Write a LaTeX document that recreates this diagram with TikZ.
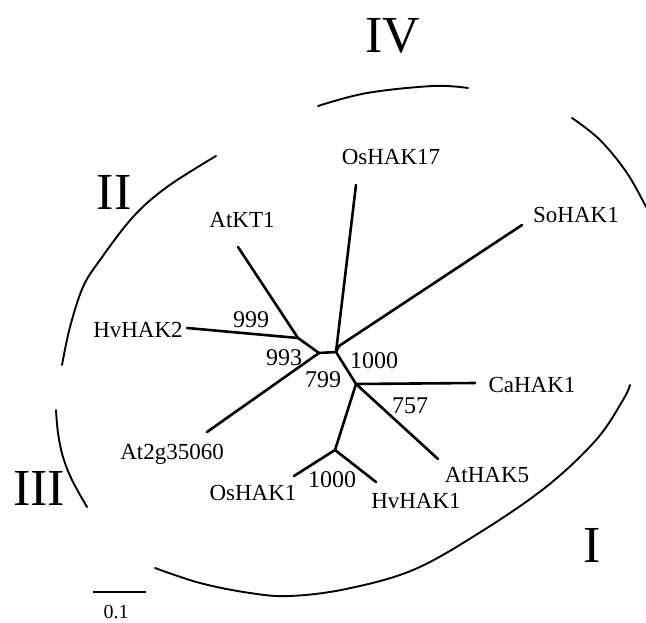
\documentclass[tikz,border=0pt]{standalone}
\usepackage{fontspec}
\setmainfont{Liberation Serif}
\tikzset{
  branch/.style={line width=2.6pt, line cap=round, line join=round},
  cladearc/.style={line width=1.9pt, line cap=round},
  taxon/.style={inner sep=0pt, anchor=base, font=\fontsize{23}{23}\selectfont},
  boot/.style={inner sep=0pt, anchor=base, font=\fontsize{24}{24}\selectfont},
  roman/.style={inner sep=0pt, anchor=base, font=\fontsize{52}{52}\selectfont},
}
\begin{document}
\begin{tikzpicture}[x=1pt,y=-1pt]
\useasboundingbox (0,0) rectangle (646,623);

% internal nodes
\coordinate (A) at (298,338);
\coordinate (B) at (319,353);
\coordinate (C) at (336,352);
\coordinate (D) at (339,346);
\coordinate (E) at (356,384);
\coordinate (F) at (335,450);

% leaf ends
\coordinate (eAtKT1) at (238,247);
\coordinate (eHvHAK2) at (187,328);
\coordinate (eAt2g) at (207,432);
\coordinate (eOsHAK17) at (356,185);
\coordinate (eSoHAK1) at (522,225);
\coordinate (eCaHAK1) at (475,383);
\coordinate (eAtHAK5) at (438,459);
\coordinate (eOsHAK1) at (294,476);
\coordinate (eHvHAK1) at (376,482);

% branches
\draw[branch] (A) -- (eAtKT1);
\draw[branch] (A) -- (eHvHAK2);
\draw[branch] (A) -- (B);
\draw[branch] (B) -- (eAt2g);
\draw[branch] (B) -- (C);
\draw[branch] (C) -- (D);
\draw[branch] (C) -- (eOsHAK17);
\draw[branch] (D) -- (eSoHAK1);
\draw[branch] (C) -- (E);
\draw[branch] (E) -- (eCaHAK1);
\draw[branch] (E) -- (eAtHAK5);
\draw[branch] (E) -- (F);
\draw[branch] (F) -- (eOsHAK1);
\draw[branch] (F) -- (eHvHAK1);

% taxon labels
\node[taxon] (lAtKT1) at (242,228) {AtKT1};
\node[taxon] (lHvHAK2) at (138,337) {HvHAK2};
\node[taxon] (lAt2g) at (172,459) {At2g35060};
\node[taxon] (lOsHAK17) at (391,165) {OsHAK17};
\node[taxon] (lSoHAK1) at (576,223) {SoHAK1};
\node[taxon] (lCaHAK1) at (532,392) {CaHAK1};
\node[taxon] (lAtHAK5) at (487,482) {AtHAK5};
\node[taxon] (lOsHAK1) at (253,500) {OsHAK1};
\node[taxon] (lHvHAK1) at (416,508) {HvHAK1};

% bootstrap values
\node[boot] (b999) at (251,327) {999};
\node[boot] (b993) at (284,365) {993};
\node[boot] (b799) at (323,387) {799};
\node[boot] (b1000a) at (374,368) {1000};
\node[boot] (b757) at (410,413) {757};
\node[boot] (b1000b) at (332,487) {1000};

% clade arcs
\draw[cladearc] plot[smooth, tension=0.6] coordinates {(318,106) (367,93) (433,86) (468,88)};
\draw[cladearc] plot[smooth, tension=0.6] coordinates {(572,118) (600,140) (627,173) (646,207)};
\draw[cladearc] plot[smooth, tension=0.6] coordinates {(216,156) (167,187) (133,217) (100,260) (83,287) (70,327) (62,365)};
\draw[cladearc] plot[smooth, tension=0.6] coordinates {(56,410) (58,433) (63,457) (72,480) (87,507)};
\draw[cladearc] plot[smooth, tension=0.6] coordinates {(155,568) (200,583) (250,593) (290,596) (346,589) (413,570) (479,533) (546,487) (596,440) (623,400) (630,385)};

% clade numerals
\node[roman] (rIV) at (393,53) {IV};
\node[roman] (rII) at (114,210) {II};
\node[roman] (rIII) at (39,505) {III};
\node[roman] (rI) at (592,562) {I};

% scale bar
\coordinate (sL) at (93,592);
\coordinate (sR) at (146,592);
\draw[line width=2.6pt] (sL) -- (sR);
\node[inner sep=0pt, anchor=base, font=\fontsize{20}{20}\selectfont] (scl) at (116,618) {0.1};
\end{tikzpicture}
\end{document}
